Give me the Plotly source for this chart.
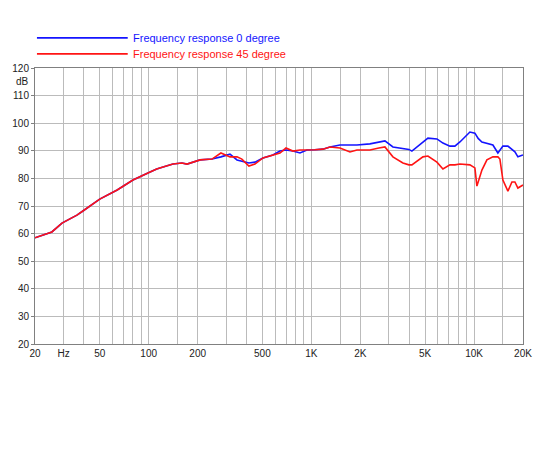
import math
import plotly.graph_objects as go

# Frequency response measurements (Hz, dB)
freq_0 = [20, 25.4, 29.3, 31.5, 36.2, 39.4, 44.8, 50, 64, 80, 102, 112, 124, 141, 160, 172,
          207, 245, 278, 316, 349, 374, 413, 450, 504, 580, 641, 698, 770, 851, 939,
          1050, 1178, 1301, 1499, 1727, 1906, 2291, 2600, 2833, 3172, 3654, 3978, 4150,
          4851, 5206, 5914, 6439, 7108, 7628, 8189, 9434, 10124, 10600, 11180, 12000,
          13062, 14020, 15048, 16152, 17836, 18608, 20000]
db_0 = [58.5, 60.6, 63.8, 64.8, 66.7, 68.2, 70.4, 72.5, 75.8, 79.4, 82.3, 83.4, 84.2, 85.2,
        85.6, 85.2, 86.7, 87.0, 87.8, 88.8, 86.7, 86.3, 85.6, 85.9, 87.4, 88.5, 89.9, 90.3,
        89.9, 89.2, 90.3, 90.4, 90.6, 91.4, 92.1, 92.1, 92.1, 92.5, 93.0, 93.6, 91.4, 91.0,
        90.5, 89.9, 93.2, 94.6, 94.3, 92.8, 91.7, 91.7, 93.2, 96.8, 96.4, 94.5, 93.2, 92.8,
        92.1, 89.2, 91.7, 91.7, 89.6, 87.8, 88.5]

freq_45 = [20, 25.4, 29.3, 31.5, 36.2, 39.4, 44.8, 50, 64, 80, 102, 112, 124, 141, 160, 172,
           207, 245, 278, 316, 349, 374, 413, 450, 504, 580, 641, 698, 770, 851, 939,
           1050, 1178, 1301, 1499, 1727, 1906, 2291, 2600, 2833, 3172, 3654, 3978, 4150,
           4851, 5206, 5914, 6439, 7108, 7628, 8189, 9434, 10124, 10416, 11180, 12000,
           13062, 14020, 14422, 15048, 16152, 17100, 17836, 18608, 20000]
db_45 = [58.5, 60.6, 63.8, 64.8, 66.7, 68.2, 70.4, 72.5, 75.8, 79.4, 82.3, 83.4, 84.2, 85.2,
         85.6, 85.2, 86.7, 87.0, 89.2, 87.8, 87.8, 87.0, 84.5, 85.2, 87.4, 88.5, 89.2, 91.0,
         89.9, 90.3, 90.3, 90.4, 90.6, 91.4, 91.0, 89.6, 90.3, 90.3, 91.0, 91.4, 87.8, 85.6,
         84.9, 84.9, 87.8, 88.1, 85.9, 83.4, 84.9, 84.9, 85.2, 84.9, 83.8, 77.2, 83.0, 86.7,
         87.8, 87.8, 87.0, 79.4, 75.4, 78.7, 78.7, 76.5, 77.6]

grid_freqs = [20, 30, 40, 50, 60, 70, 80, 90, 100, 150, 200, 300, 400, 500, 600, 700, 800,
              900, 1000, 1500, 2000, 3000, 4000, 5000, 6000, 7000, 8000, 9000, 10000, 15000,
              20000]
tick_labels = {20: "20", 30: "Hz", 50: "50", 100: "100", 200: "200", 500: "500",
               1000: "1K", 2000: "2K", 5000: "5K", 10000: "10K", 20000: "20K"}
y_ticks = list(range(20, 121, 10))

blue = "#1414ff"
red = "#ff1414"

fig = go.Figure()
fig.add_trace(go.Scatter(x=freq_0, y=db_0, mode="lines", line=dict(color=blue, width=1.6),
                         name="Frequency response 0 degree"))
fig.add_trace(go.Scatter(x=freq_45, y=db_45, mode="lines", line=dict(color=red, width=1.6),
                         name="Frequency response 45 degree"))

fig.update_xaxes(type="log", range=[math.log10(20), math.log10(20000)],
                 tickvals=grid_freqs, ticktext=[tick_labels.get(f, "") for f in grid_freqs],
                 showgrid=True, gridcolor="#bbbbbb", gridwidth=1,
                 showline=True, linecolor="#808080", linewidth=1, mirror=True,
                 ticks="", tickfont=dict(size=10, color="#222"), zeroline=False,
                 automargin=False)
fig.update_yaxes(range=[20, 120], tickvals=y_ticks,
                 showgrid=True, gridcolor="#bbbbbb", gridwidth=1,
                 showline=True, linecolor="#808080", linewidth=1, mirror=True,
                 ticks="outside", ticklen=3, tickcolor="#808080",
                 tickfont=dict(size=10, color="#222"), zeroline=False,
                 automargin=False)

# legend drawn by hand (long line samples)
for yy, col, txt in [(1.109, blue, "Frequency response 0 degree"),
                     (1.051, red, "Frequency response 45 degree")]:
    fig.add_shape(type="line", xref="paper", yref="paper", x0=0.004, x1=0.19, y0=yy, y1=yy,
                  line=dict(color=col, width=1.6))
    fig.add_annotation(xref="paper", yref="paper", x=0.196, y=yy, text=txt, showarrow=False,
                       xanchor="left", yanchor="middle", font=dict(size=11, color=col))

fig.add_annotation(xref="paper", yref="y", x=0, y=115, text="dB", showarrow=False,
                   xanchor="right", xshift=-4, font=dict(size=10, color="#222"))

fig.update_layout(width=550, height=450, showlegend=False,
                  margin=dict(l=27, r=35, t=60, b=114),
                  paper_bgcolor="white", plot_bgcolor="white",
                  font=dict(family="Liberation Sans, Arial, sans-serif"))

fig.write_html("out.html")
